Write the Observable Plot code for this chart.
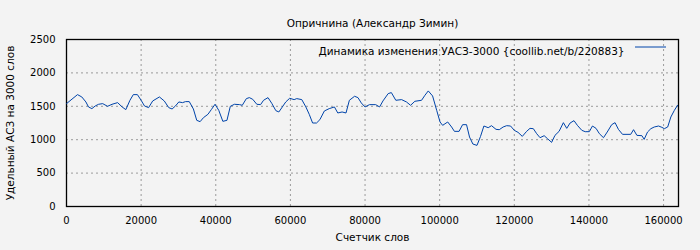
<!DOCTYPE html>
<html><head><meta charset="utf-8">
<script src="https://cdn.jsdelivr.net/npm/d3@7"></script>
<script src="https://cdn.jsdelivr.net/npm/@observablehq/plot@0.6"></script>
<style>body{margin:0;background:#f3f3f3;} svg{display:block;}</style>
</head><body>
<div id="chart"></div>
<script>
const title = "Опричнина (Александр Зимин)";
const seriesName = "Динамика изменения УАСЗ-3000 {coollib.net/b/220883}";
const xLabel = "Счетчик слов";
const yLabel = "Удельный АСЗ на 3000 слов";
const xTicks = [0,20000,40000,60000,80000,100000,120000,140000,160000];
const yTicks = [0,500,1000,1500,2000,2500];
const words = [0,2950,4100,5200,5900,6800,7700,8600,9700,11000,12200,13700,14900,15900,17000,17900,19000,20000,20900,22000,23100,24900,26200,27400,28300,29200,30100,31100,31900,32900,34000,34900,35800,36700,37900,38800,39800,40800,41900,43000,43900,45000,46400,47100,48200,49000,49900,51000,52000,52800,54000,55000,56100,56900,57650,58750,59800,61000,61700,63050,64150,65050,65950,67000,67900,69100,70400,71800,72700,73850,74900,75800,77200,78100,79000,80000,81200,82850,83900,84800,86200,87050,88250,89800,91100,92200,93350,95150,96050,96950,98100,99200,100100,100800,102150,103200,103950,105200,106150,107200,108000,108900,110000,110950,111850,113000,113900,115100,115970,117000,117950,119000,120000,121000,122150,123300,124200,125100,126000,126900,128000,128900,130000,130900,132000,133150,134050,134950,136000,136900,138100,139000,140100,140950,141900,142800,143900,144900,146100,147000,147900,149000,151200,151950,152850,154200,154800,155700,156600,157500,158650,159550,160200,161100,161950,162900,163750];
const values = [1540,1675,1640,1565,1490,1465,1505,1530,1540,1500,1530,1555,1490,1450,1590,1675,1675,1590,1505,1480,1580,1640,1580,1480,1460,1505,1565,1555,1570,1570,1460,1290,1270,1330,1380,1450,1530,1440,1275,1290,1500,1530,1525,1515,1615,1630,1605,1530,1525,1590,1630,1545,1435,1415,1475,1565,1620,1600,1615,1600,1490,1380,1250,1250,1300,1430,1465,1490,1400,1415,1400,1590,1650,1630,1550,1490,1525,1525,1490,1580,1690,1705,1590,1600,1565,1515,1575,1590,1665,1730,1655,1440,1265,1215,1265,1190,1125,1125,1225,1225,1040,935,915,1050,1205,1180,1210,1155,1150,1190,1210,1205,1140,1110,1050,1125,1170,1165,1090,1030,1060,1015,960,1065,1125,1255,1170,1250,1285,1215,1140,1120,1120,1205,1170,1090,1030,1115,1225,1255,1155,1080,1080,1150,1065,1060,1005,1115,1165,1190,1205,1185,1165,1190,1340,1440,1515];
const data = words.map((w, i) => ({w, v: values[i]}));
const lineColor = "#0044aa";
const plain = d => String(d);

const legendSample = (index, scales, values, dims) => {
  const x2 = dims.width - dims.marginRight - 12;
  const y = dims.marginTop + 8;
  const l = d3.create("svg:line")
    .attr("x1", x2 - 31).attr("x2", x2).attr("y1", y).attr("y2", y)
    .attr("stroke", lineColor).attr("stroke-width", 1);
  return l.node();
};

const chart = Plot.plot({
  width: 700, height: 250,
  marginLeft: 66, marginRight: 22, marginTop: 39, marginBottom: 44,
  style: {background: "#f3f3f3", fontFamily: "DejaVu Sans", fontSize: "10px", color: "#000"},
  x: {domain: [0, 164000]},
  y: {domain: [0, 2500]},
  marks: [
    Plot.gridX(xTicks.slice(1), {stroke: "#9a9a9a", strokeOpacity: 1, strokeDasharray: "2,3"}),
    Plot.gridY(yTicks.slice(1, -1), {stroke: "#9a9a9a", strokeOpacity: 1, strokeDasharray: "2,3"}),
    Plot.axisX(xTicks, {tickSize: 0, tickPadding: 10, label: null, tickFormat: plain, fill: "#000"}),
    Plot.axisY(yTicks, {tickSize: 0, tickPadding: 11, label: null, tickFormat: plain, fill: "#000"}),
    Plot.frame({stroke: "#000", strokeWidth: 1.3}),
    Plot.line(data, {x: "w", y: "v", stroke: lineColor, strokeWidth: 1}),
    Plot.text([title], {frameAnchor: "top", dy: -20, fontSize: 10.5, fill: "#000"}),
    Plot.text([xLabel], {frameAnchor: "bottom", dy: 34, fontSize: 10.5, fill: "#000"}),
    Plot.text([yLabel], {frameAnchor: "left", dx: -56, rotate: -90, textAnchor: "middle", fontSize: 10.5, fill: "#000"}),
    Plot.text([seriesName], {frameAnchor: "top-right", dx: -54, dy: 8, textAnchor: "end", fontSize: 10.5, fill: "#000"}),
    legendSample
  ]
});
document.getElementById("chart").appendChild(chart);
</script>
</body></html>
